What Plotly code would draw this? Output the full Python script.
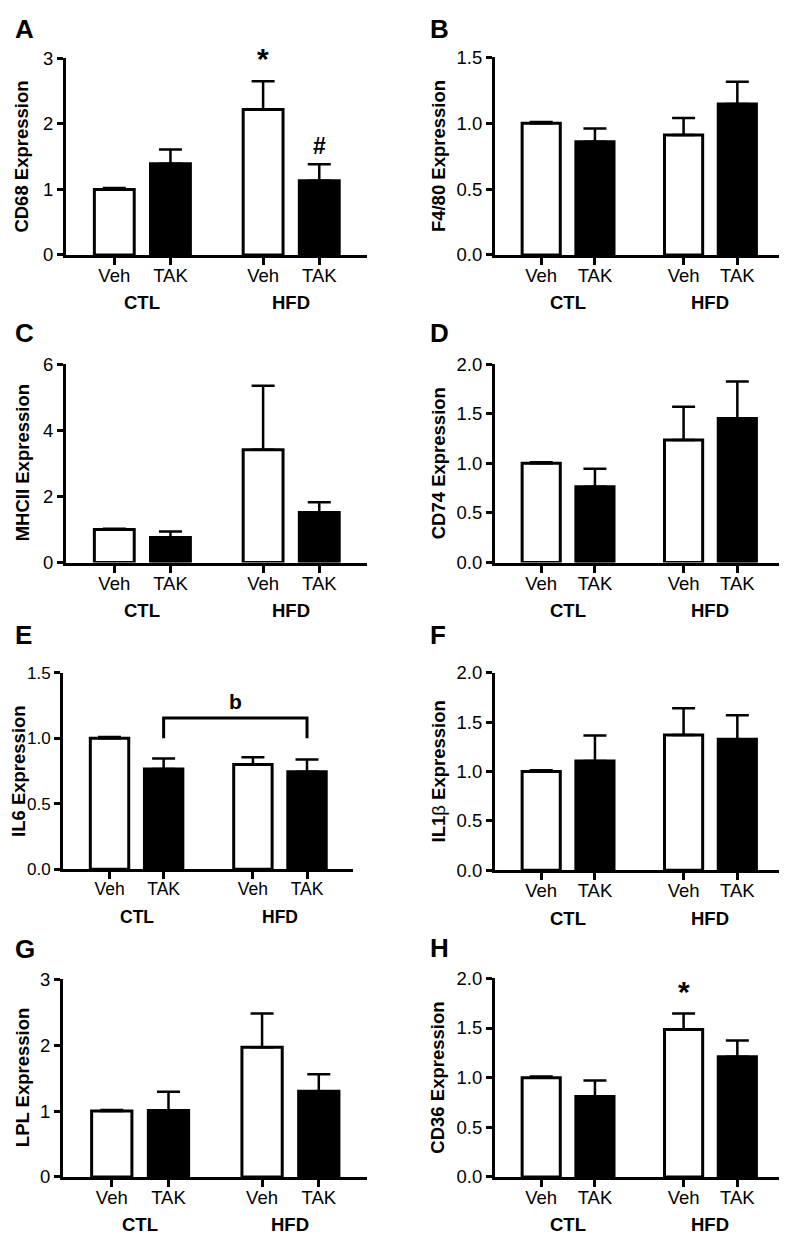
import plotly.graph_objects as go

# ---------------- data ----------------
categories = ["Veh", "TAK", "Veh", "TAK"]
groups = ["CTL", "HFD"]
panel_letters = ["A", "B", "C", "D", "E", "F", "G", "H"]
y_titles = ["<b>CD68 Expression</b>", "<b>F4/80 Expression</b>", "<b>MHCII Expression</b>",
            "<b>CD74 Expression</b>", "<b>IL6 Expression</b>", "<b>IL1</b>β<b> Expression</b>",
            "<b>LPL Expression</b>", "<b>CD36 Expression</b>"]

cd68_mean = [1.00, 1.39, 2.22, 1.13]
cd68_sem = [0.02, 0.22, 0.43, 0.255]
f480_mean = [1.00, 0.86, 0.91, 1.145]
f480_sem = [0.01, 0.10, 0.13, 0.17]
mhcii_mean = [1.00, 0.76, 3.41, 1.51]
mhcii_sem = [0.02, 0.18, 1.93, 0.31]
cd74_mean = [1.00, 0.765, 1.235, 1.45]
cd74_sem = [0.01, 0.18, 0.335, 0.375]
il6_mean = [1.00, 0.765, 0.80, 0.743]
il6_sem = [0.01, 0.08, 0.055, 0.094]
il1b_mean = [1.00, 1.105, 1.37, 1.325]
il1b_sem = [0.013, 0.26, 0.27, 0.245]
lpl_mean = [1.00, 1.01, 1.97, 1.30]
lpl_sem = [0.015, 0.285, 0.51, 0.26]
cd36_mean = [1.00, 0.81, 1.485, 1.21]
cd36_sem = [0.012, 0.16, 0.16, 0.165]

yticks_A = [0, 1, 2, 3]
yticks_B = [0.0, 0.5, 1.0, 1.5]
yticks_C = [0, 2, 4, 6]
yticks_D = [0.0, 0.5, 1.0, 1.5, 2.0]
yticks_E = [0.0, 0.5, 1.0, 1.5]
yticks_F = [0.0, 0.5, 1.0, 1.5, 2.0]
yticks_G = [0, 1, 2, 3]
yticks_H = [0.0, 0.5, 1.0, 1.5, 2.0]
ytick_decimals = [0, 1, 0, 1, 1, 1, 0, 1]

# significance marks: (panel index, bar index, symbol)
sig_marks = [(0, 2, "*"), (0, 3, "#"), (7, 2, "*")]
# bracket in panel E between bars 1 and 3, label "b"
bracket_E_bars = (1, 3)
bracket_E_low = 1.0
bracket_E_high = 1.155
bracket_E_label = "b"

means = [cd68_mean, f480_mean, mhcii_mean, cd74_mean, il6_mean, il1b_mean, lpl_mean, cd36_mean]
sems = [cd68_sem, f480_sem, mhcii_sem, cd74_sem, il6_sem, il1b_sem, lpl_sem, cd36_sem]
yticks = [yticks_A, yticks_B, yticks_C, yticks_D, yticks_E, yticks_F, yticks_G, yticks_H]

# ---------------- layout constants ----------------
OFF = 8                       # page body margin
W, H = 787 - OFF, 1240 - OFF  # figure size so that it fills the window
slots = [0, 1, 2.65, 3.65]
xrange_ = [-0.86, 4.5]
# pixel boxes in window coordinates (x0, x1, ytop, ybottom)
boxes = [
    (66, 367, 48, 248), (495, 783, 47, 248),
    (66, 367, 359, 561), (495, 783, 359, 561),
    (63, 353, 673, 873), (495, 783, 673, 874),
    (63, 367, 985, 1186), (495, 783, 984, 1186),
]
letter_pos = [(13, 18), (428, 18), (13, 327), (428, 327),
              (13, 635), (428, 635), (13, 954), (428, 953)]
ytitle_x = [22, 438, 22, 438, 19, 438, 22, 438]
tick_size = [18.5, 18.5, 18.5, 18.5, 17.5, 18.5, 18.5, 18.5]
ytick_size = [18.5, 18.5, 18.5, 18.5, 17, 18.5, 18.5, 18.5]


def fx(px):
    return (px - OFF) / W


def fy(py):
    return 1 - (py - OFF) / H


FONT = "Liberation Sans, Arial, Helvetica, sans-serif"
fill_colors = ["white", "black", "white", "black"]

fig = go.Figure()
layout = dict(
    width=W, height=H, margin=dict(l=0, r=0, t=0, b=0),
    paper_bgcolor="white", plot_bgcolor="white", showlegend=False,
    font=dict(family=FONT, size=18, color="black"), hovermode=False,
)
annotations = []

for i in range(8):
    n = i + 1
    xa = "x" if n == 1 else f"x{n}"
    ya = "y" if n == 1 else f"y{n}"
    x0, x1, yt, yb = boxes[i]
    ytk = yticks[i]
    dec = ytick_decimals[i]
    err_top = [m + s for m, s in zip(means[i], sems[i])]

    fig.add_trace(go.Bar(
        x=slots, y=means[i], width=0.71, xaxis=xa, yaxis=ya,
        marker=dict(color=fill_colors, line=dict(color="black", width=3)),
        error_y=dict(type="data", symmetric=False, array=sems[i],
                     arrayminus=[0] * 4, color="black", thickness=2.5, width=11.5),
        cliponaxis=False,
    ))

    layout["xaxis" if n == 1 else f"xaxis{n}"] = dict(
        domain=[fx(x0), fx(x1)], anchor=ya, range=xrange_,
        tickmode="array", tickvals=slots, ticktext=categories,
        ticks="outside", ticklen=7, tickwidth=3, tickcolor="black",
        ticklabelstandoff=-5,
        showline=True, linewidth=3, linecolor="black",
        showgrid=False, zeroline=False, fixedrange=True,
        tickfont=dict(size=tick_size[i], family=FONT, color="black"),
    )
    layout["yaxis" if n == 1 else f"yaxis{n}"] = dict(
        domain=[fy(yb), fy(yt)], anchor=xa, range=[0, ytk[-1]],
        tickmode="array", tickvals=ytk, ticktext=[f"{v:.{dec}f}" for v in ytk],
        ticks="outside", ticklen=6, tickwidth=3, tickcolor="black",
        showline=True, linewidth=3, linecolor="black",
        showgrid=False, zeroline=False, fixedrange=True,
        tickfont=dict(size=ytick_size[i], family=FONT, color="black"),
    )

    # group labels
    for g, name in enumerate(groups):
        annotations.append(dict(
            x=(slots[2 * g] + slots[2 * g + 1]) / 2, y=0, xref=xa, yref=f"{ya} domain",
            text=f"<b>{name}</b>", showarrow=False, yanchor="middle", yshift=-48,
            font=dict(size=tick_size[i], family=FONT, color="black")))

    # y title
    annotations.append(dict(
        x=fx(ytitle_x[i]), y=fy((yt + yb) / 2), xref="paper", yref="paper",
        text=y_titles[i], textangle=-90, showarrow=False,
        xanchor="center", yanchor="middle", font=dict(size=18.5, family=FONT, color="black")))

    # panel letter
    lx, ly = letter_pos[i]
    annotations.append(dict(
        x=fx(lx), y=fy(ly), xref="paper", yref="paper", text=f"<b>{panel_letters[i]}</b>",
        showarrow=False, xanchor="left", yanchor="middle",
        font=dict(size=26, family=FONT, color="black")))

    for (p, b, sym) in sig_marks:
        if p == i:
            annotations.append(dict(
                x=slots[b], y=err_top[b], xref=xa, yref=ya, text=f"<b>{sym}</b>",
                showarrow=False, yanchor="bottom",
                yshift=(4 if sym == "*" else 3),
                font=dict(size=(30 if sym == "*" else 23), family=FONT, color="black")))

# bracket in panel E
bx = [slots[bracket_E_bars[0]], slots[bracket_E_bars[0]], slots[bracket_E_bars[1]], slots[bracket_E_bars[1]]]
by = [bracket_E_low, bracket_E_high, bracket_E_high, bracket_E_low]
fig.add_trace(go.Scatter(x=bx, y=by, mode="lines", xaxis="x5", yaxis="y5",
                         line=dict(color="black", width=3), cliponaxis=False))
annotations.append(dict(
    x=(bx[0] + bx[-1]) / 2, y=bracket_E_high, xref="x5", yref="y5",
    text=f"<b>{bracket_E_label}</b>", showarrow=False, yanchor="bottom", yshift=3,
    font=dict(size=21, family=FONT, color="black")))

layout["annotations"] = annotations
fig.update_layout(**layout)
fig.write_html("out.html")
